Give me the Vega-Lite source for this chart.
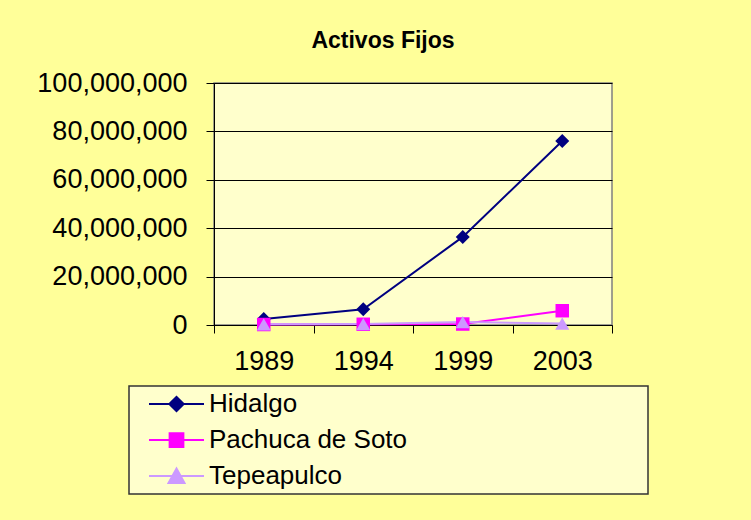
{
  "$schema": "https://vega.github.io/schema/vega-lite/v6.json",
  "width": 398,
  "height": 242,
  "autosize": {"type": "none"},
  "padding": {"left": 214, "top": 83, "right": 139, "bottom": 195},
  "background": "#FFFF99",
  "title": {"text": "Activos Fijos", "fontSize": 23, "fontWeight": "bold", "font": "Liberation Sans", "color": "#000000", "anchor": "middle", "frame": "group", "dx": -30, "offset": 16},
  "data": {
    "values": [
      {"series": "Hidalgo", "year": "1989", "value": 2500000},
      {"series": "Hidalgo", "year": "1994", "value": 6500000},
      {"series": "Hidalgo", "year": "1999", "value": 36400000},
      {"series": "Hidalgo", "year": "2003", "value": 76000000},
      {"series": "Pachuca de Soto", "year": "1989", "value": 200000},
      {"series": "Pachuca de Soto", "year": "1994", "value": 300000},
      {"series": "Pachuca de Soto", "year": "1999", "value": 400000},
      {"series": "Pachuca de Soto", "year": "2003", "value": 5900000},
      {"series": "Tepeapulco", "year": "1989", "value": 300000},
      {"series": "Tepeapulco", "year": "1994", "value": 400000},
      {"series": "Tepeapulco", "year": "1999", "value": 1200000},
      {"series": "Tepeapulco", "year": "2003", "value": 600000}
    ]
  },
  "encoding": {
    "x": {
      "field": "year", "type": "ordinal",
      "scale": {"type": "band", "paddingInner": 0, "paddingOuter": 0},
      "axis": {"title": null, "labelAngle": 0, "tickBand": "extent", "domainColor": "#000000", "domainWidth": 1, "tickColor": "#000000", "tickSize": 8, "tickWidth": 1, "labelFontSize": 27, "labelFont": "Liberation Sans", "labelColor": "#000000", "labelPadding": 15, "grid": false}
    },
    "y": {
      "field": "value", "type": "quantitative",
      "scale": {"domain": [0, 100000000], "nice": false, "zero": true},
      "axis": {"title": null, "values": [0, 20000000, 40000000, 60000000, 80000000, 100000000], "format": ",d", "grid": true, "gridColor": "#000000", "gridOpacity": 1, "gridWidth": 1, "domainColor": "#000000", "domainWidth": 1, "tickColor": "#000000", "tickSize": 8, "tickWidth": 1, "labelFontSize": 27, "labelFont": "Liberation Sans", "labelColor": "#000000", "labelPadding": 19}
    }
  },
  "layer": [
    {
      "mark": {"type": "point", "filled": true, "opacity": 0, "size": 3025},
      "encoding": {
        "fill": {"field": "series", "type": "nominal", "scale": {"domain": ["Hidalgo", "Pachuca de Soto", "Tepeapulco"], "range": ["#000080", "#FF00FF", "#CC99FF"]}, "legend": {"title": "\u00a0", "titleOrient": "right", "titlePadding": 238, "symbolOpacity": 1}},
        "stroke": {"field": "series", "type": "nominal", "scale": {"domain": ["Hidalgo", "Pachuca de Soto", "Tepeapulco"], "range": ["#000080", "#FF00FF", "#CC99FF"]}, "legend": {"title": "\u00a0", "titleOrient": "right", "titlePadding": 238, "symbolOpacity": 1}},
        "shape": {"field": "series", "type": "nominal", "scale": {"domain": ["Hidalgo", "Pachuca de Soto", "Tepeapulco"], "range": ["M-1,0H1M-0.26,0L0,-0.26L0.26,0L0,0.26Z", "M-1,0H1M-0.25,-0.25H0.25V0.25H-0.25Z", "M-1,0H1M0,-0.27L0.29,0.25H-0.29Z"]}, "legend": {"title": "\u00a0", "titleOrient": "right", "titlePadding": 238, "symbolOpacity": 1}}
      }
    },
    {
      "mark": {"type": "line", "strokeWidth": 2},
      "encoding": {
        "color": {"field": "series", "type": "nominal", "scale": {"domain": ["Hidalgo", "Pachuca de Soto", "Tepeapulco"], "range": ["#000080", "#FF00FF", "#CC99FF"]}, "legend": null}
      }
    },
    {
      "transform": [{"filter": "datum.series == 'Hidalgo'"}],
      "mark": {"type": "point", "shape": "diamond", "filled": true, "opacity": 1, "size": 196, "color": "#000080"}
    },
    {
      "transform": [{"filter": "datum.series == 'Pachuca de Soto'"}],
      "mark": {"type": "point", "shape": "square", "filled": true, "opacity": 1, "size": 182, "color": "#FF00FF"}
    },
    {
      "transform": [{"filter": "datum.series == 'Tepeapulco'"}],
      "mark": {"type": "point", "shape": "triangle-up", "filled": true, "opacity": 1, "size": 200, "color": "#CC99FF"}
    }
  ],
  "config": {
    "font": "Liberation Sans",
    "view": {"fill": "#FFFFCC", "stroke": "#808080", "strokeWidth": 1.5},
    "legend": {"orient": "none", "legendX": -85, "legendY": 303, "fillColor": "#FFFFCC", "strokeColor": "#333333", "strokeWidth": 1.5, "padding": 3, "symbolSize": 3025, "symbolStrokeWidth": 2, "symbolOpacity": 1, "symbolOffset": 16, "labelFontSize": 26, "labelFont": "Liberation Sans", "labelColor": "#000000", "labelOffset": 4, "rowPadding": 6, "clipHeight": 30, "labelLimit": 400}
  }
}
